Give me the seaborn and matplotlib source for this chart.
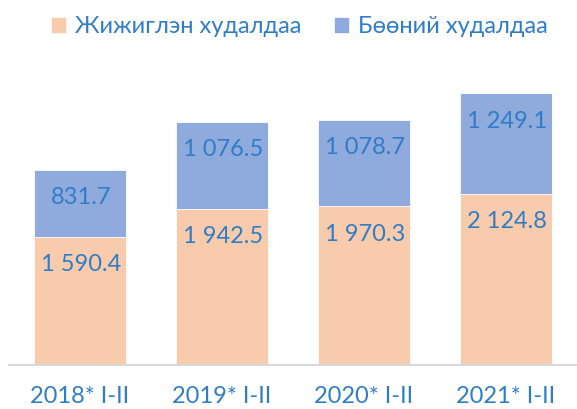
import pandas as pd
import numpy as np
import seaborn as sns
import matplotlib.pyplot as plt
from matplotlib.patches import Patch

# Chart data
years = ["2018* I-II", "2019* I-II", "2020* I-II", "2021* I-II"]
retail = [1590.4, 1942.5, 1970.3, 2124.8]
wholesale = [831.7, 1076.5, 1078.7, 1249.1]
series_names = ["Жижиглэн худалдаа", "Бөөний худалдаа"]

df = pd.DataFrame({"year": years, "retail": retail, "wholesale": wholesale})
df["total"] = df["retail"] + df["wholesale"]

peach = "#F8CBAD"
blue = "#8FAADC"
text_col = "#2F7DC6"

sns.set_theme(style="white")
plt.rcParams["font.family"] = ["Lato", "DejaVu Sans"]

fig = plt.figure(figsize=(5.77, 4.09), dpi=100)
ax = fig.add_axes([9 / 577, 44 / 409, 568 / 577, 305 / 409])

# stacked bars: total in blue, retail drawn over it
sns.barplot(data=df, x="year", y="total", color=blue, width=0.65, saturation=1,
            edgecolor="white", linewidth=0.6, ax=ax)
sns.barplot(data=df, x="year", y="retail", color=peach, width=0.65, saturation=1,
            edgecolor="white", linewidth=0.6, ax=ax)

def fmt(v):
    return f"{v:,.1f}".replace(",", " ")

fs = 17
for i in range(len(df)):
    r, t = df["retail"][i], df["total"][i]
    ax.annotate(fmt(r), (i, r), xytext=(1, -20), textcoords="offset points",
                ha="center", va="center", fontsize=fs, color=text_col)
    ax.annotate(fmt(df["wholesale"][i]), (i, t), xytext=(1, -20), textcoords="offset points",
                ha="center", va="center", fontsize=fs, color=text_col)

ax.set_xlim(-0.5, 3.5)
ax.set_ylim(0, 3789)
ax.set_xlabel("")
ax.set_ylabel("")
ax.set_yticks([])
ax.tick_params(axis="x", labelsize=fs, colors=text_col, pad=15, length=0)
for s in ["top", "right", "left"]:
    ax.spines[s].set_visible(False)
ax.spines["bottom"].set_color("#D9D9D9")
ax.spines["bottom"].set_linewidth(1.5)

handles = [Patch(color=peach), Patch(color=blue)]
leg = fig.legend(handles, series_names, loc="center", bbox_to_anchor=(0.52, 0.935), ncol=2,
                 frameon=False, fontsize=fs, handlelength=0.55,
                 handleheight=0.55, handletextpad=0.45, columnspacing=1.4)
for t in leg.get_texts():
    t.set_color(text_col)

plt.savefig("out.png", dpi=100)
